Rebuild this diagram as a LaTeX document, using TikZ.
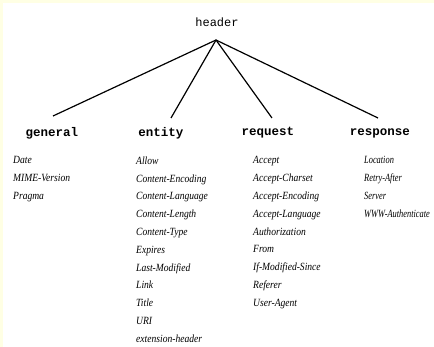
\documentclass[tikz,border=0pt]{standalone}
\usepackage{fontspec}
\setmainfont{Liberation Serif}
\newfontfamily\monofont{Liberation Mono}
\newfontfamily\fieldfont[FakeStretch=0.87]{Liberation Serif}
\newfontfamily\narrowfieldfont[FakeStretch=0.76]{Liberation Serif}
\definecolor{paleyellow}{HTML}{FFFFE4}
\tikzset{
  x=1pt, y=1pt,
  branch/.style={line width=1.2pt, black},
  topname/.style={font=\monofont\fontsize{12}{14}\selectfont, inner sep=0pt, anchor=center},
  category/.style={font=\monofont\bfseries\fontsize{12.5}{14}\selectfont, inner sep=0pt, anchor=center},
  fieldlist/.style={font=\fieldfont\itshape\fontsize{11}{17.8}\selectfont, inner sep=0pt, anchor=north west, align=left},
  narrowlist/.style={fieldlist, font=\narrowfieldfont\itshape\fontsize{11}{17.8}\selectfont}
}
\begin{document}
\begin{tikzpicture}
  % page and its pale frame
  \fill[white] (0,0) rectangle (434,-347);
  \fill[paleyellow] (0,0) rectangle (434,-3);
  \fill[paleyellow] (0,0) rectangle (3,-347);
  \useasboundingbox (0,0) rectangle (434,-347);

  % root
  \node[topname] (header) at (217,-22) {header};
  \coordinate (apex) at (216,-40);

  % branch ends
  \coordinate (endG) at (53,-116);
  \coordinate (endE) at (171,-118);
  \coordinate (endQ) at (272,-118);
  \coordinate (endR) at (378,-118);

  % categories
  \node[category] (general)  at (52,-133)  {general};
  \node[category] (entity)   at (161,-133) {entity};
  \node[category] (request)  at (268,-133) {request};
  \node[category] (response) at (380,-133) {response};

  \draw[branch] (apex) -- (endG);
  \draw[branch] (apex) -- (endE);
  \draw[branch] (apex) -- (endQ);
  \draw[branch] (apex) -- (endR);

  % header fields
  \node[fieldlist] (genfields) at (13,-156.5) {Date\\MIME-Version\\Pragma};
  \node[fieldlist] (entfields) at (136,-156.5) {Allow\\Content-Encoding\\Content-Language\\Content-Length\\Content-Type\\Expires\\Last-Modified\\Link\\Title\\URI\\extension-header};
  \node[fieldlist] (reqfields) at (253,-156.5) {Accept\\Accept-Charset\\Accept-Encoding\\Accept-Language\\Authorization\\From\\If-Modified-Since\\Referer\\User-Agent};
  \node[narrowlist] (resfields) at (364,-156.5) {Location\\Retry-After\\Server\\WWW-Authenticate};
\end{tikzpicture}
\end{document}
